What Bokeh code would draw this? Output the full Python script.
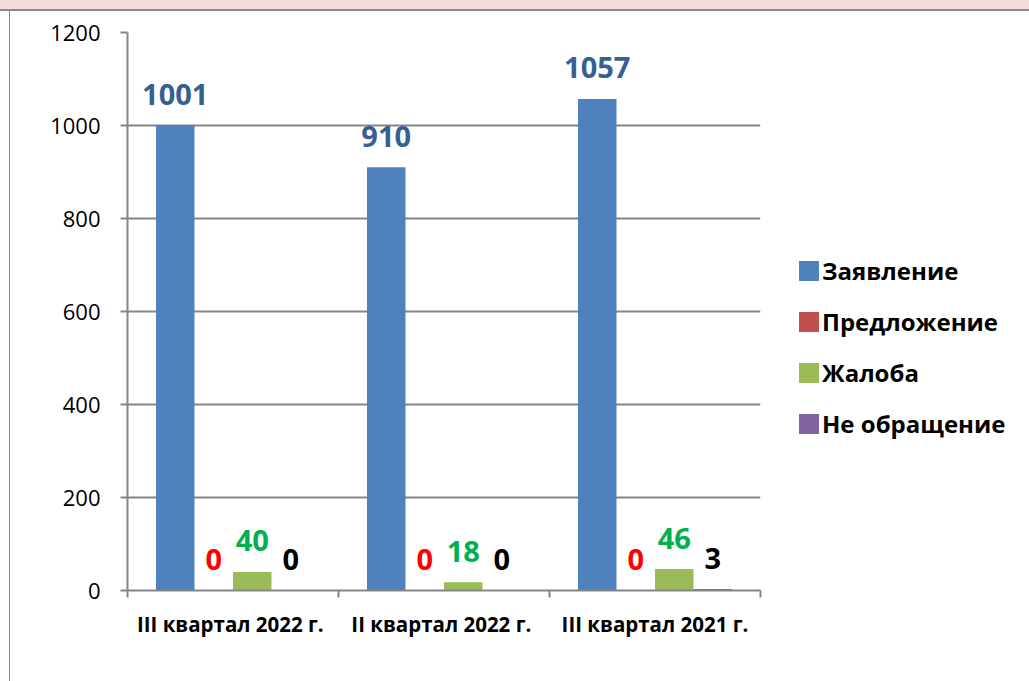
import numpy as np
from bokeh.plotting import figure
from bokeh.layouts import column, row
from bokeh.models import (ColumnDataSource, Range1d, FixedTicker, Legend, LegendItem, Div)
from bokeh.transform import dodge
from bokeh.core.properties import value
from bokeh.embed import file_html
from bokeh.resources import INLINE

categories = ["III  квартал 2022 г.", "II  квартал 2022 г.", "III квартал 2021 г."]
series_names = ["Заявление", "Предложение", "Жалоба", "Не обращение"]
zayavlenie = [1001, 910, 1057]
predlozhenie = [0, 0, 0]
zhaloba = [40, 18, 46]
ne_obrashchenie = [0, 0, 3]
y_ticks = [0, 200, 400, 600, 800, 1000, 1200]

bar_colors = ["#4F81BD", "#C0504D", "#9BBB59", "#8064A2"]
label_colors = ["#376092", "#FF0000", "#00B050", "#000000"]
FONT = "Open Sans"
GRID = "#868686"

series = [zayavlenie, predlozhenie, zhaloba, ne_obrashchenie]
xc = (np.arange(len(categories)) + 0.5).tolist()
data = {"xc": xc}
for i, s in enumerate(series):
    data[f"s{i}"] = s
    data[f"t{i}"] = [str(v) for v in s]
src = ColumnDataSource(data)

p = figure(frame_width=633, frame_height=558,
           x_range=Range1d(0, len(categories)), y_range=Range1d(0, 1200),
           output_backend="svg", toolbar_location=None,
           min_border_left=117, min_border_right=269,
           min_border_top=21, min_border_bottom=91)
p.outline_line_color = None
p.background_fill_color = "white"
p.border_fill_color = "white"

bw = 0.1825
offsets = [-1.5 * bw, -0.5 * bw, 0.5 * bw, 1.5 * bw]
renderers = []
for i in range(4):
    r = p.vbar(x=dodge("xc", offsets[i], range=p.x_range), top=f"s{i}", width=bw,
               source=src, fill_color=bar_colors[i], line_color=None)
    renderers.append(r)
    p.text(x=dodge("xc", offsets[i], range=p.x_range), y=f"s{i}", text=f"t{i}",
           source=src, y_offset=-31, text_align="center", text_baseline="alphabetic",
           text_font=value(FONT), text_font_style="bold", text_font_size="29px",
           text_color=label_colors[i])

# grid
p.xgrid.grid_line_color = None
p.ygrid.grid_line_color = GRID
p.ygrid.grid_line_width = 2

# y axis
p.yaxis.ticker = FixedTicker(ticks=y_ticks)
p.yaxis.axis_line_color = GRID
p.yaxis.axis_line_width = 2
p.yaxis.major_tick_line_color = GRID
p.yaxis.major_tick_line_width = 2
p.yaxis.major_tick_out = 7
p.yaxis.major_tick_in = 0
p.yaxis.minor_tick_line_color = None
p.yaxis.major_label_standoff = 20
p.yaxis.major_label_text_font = FONT
p.yaxis.major_label_text_font_size = "22px"
p.yaxis.major_label_text_color = "#000000"

# x axis
p.xaxis.ticker = FixedTicker(ticks=xc, minor_ticks=list(range(len(categories) + 1)))
p.xaxis.major_label_overrides = {x: c for x, c in zip(xc, categories)}
p.xaxis.axis_line_color = GRID
p.xaxis.axis_line_width = 2
p.xaxis.major_tick_line_color = None
p.xaxis.minor_tick_line_color = GRID
p.xaxis.minor_tick_line_width = 2
p.xaxis.minor_tick_out = 7
p.xaxis.minor_tick_in = 0
p.xaxis.major_label_standoff = 12
p.xaxis.major_label_text_font = FONT
p.xaxis.major_label_text_font_style = "bold"
p.xaxis.major_label_text_font_size = "20.5px"
p.xaxis.major_label_text_color = "#000000"

legend = Legend(items=[LegendItem(label=n, renderers=[r]) for n, r in zip(series_names, renderers)],
                location=(36, 150), orientation="vertical",
                glyph_width=25, glyph_height=25, label_standoff=1, spacing=18,
                padding=0, margin=0, border_line_color=None, background_fill_alpha=0,
                label_text_font=FONT, label_text_font_style="bold",
                label_text_font_size="24px", label_text_color="#000000")
p.add_layout(legend, "right")

top_band = Div(text="", width=1029, height=11, margin=0,
               styles={"background": "linear-gradient(to bottom, #F2DCDB 0px, #F2DCDB 9px, "
                                     "#888888 9px, #888888 11px)"})
left_edge = Div(text="", width=10, height=670, margin=0,
                styles={"background": "linear-gradient(to right, #FFFFFF 0px, #FFFFFF 9px, "
                                      "#888888 9px, #888888 10px)"})

layout = column(top_band, row(left_edge, p, spacing=0), spacing=0)

open("out.html", "w").write(file_html(layout, INLINE))
